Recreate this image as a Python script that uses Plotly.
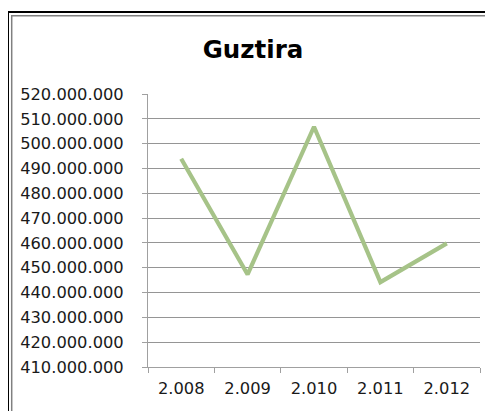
import plotly.graph_objects as go

title_text = "Guztira"
years = ["2.008", "2.009", "2.010", "2.011", "2.012"]
values = [493900000, 447300000, 506800000, 444200000, 459800000]
y_ticks = [410000000 + 10000000 * i for i in range(12)]

OFF = 8  # page body margin
W, H = 493 - OFF, 411 - OFF
L, R, T, B = 148 - OFF, 480 - OFF, 94 - OFF, 367 - OFF  # plot area in figure pixels


def px(x):
    return (x - OFF - L) / (R - L)


def py(y):
    return (B - (y - OFF)) / (B - T)


fig = go.Figure()
fig.add_trace(go.Scatter(
    x=years, y=values, mode="lines",
    line=dict(color="#A6C388", width=4.2),
    hoverinfo="skip", showlegend=False,
))

font = dict(family="DejaVu Sans", size=16.3, color="#1a1a1a")

fig.update_layout(
    width=W, height=H,
    margin=dict(l=L, r=W - R, t=T, b=H - B, autoexpand=False),
    paper_bgcolor="white", plot_bgcolor="white",
    separators=",.",
    title=dict(text="<b>" + title_text + "</b>", x=(253 - OFF) / W, xref="container",
               xanchor="center", y=1 - (49 - OFF) / H, yref="container", yanchor="middle",
               font=dict(family="DejaVu Sans", size=24.5, color="black")),
    xaxis=dict(
        type="category", range=[-0.5, 4.5], tickson="boundaries",
        showgrid=False, showline=True, linecolor="#A0A0A0", linewidth=1,
        ticks="outside", ticklen=5, tickcolor="#A0A0A0",
        tickfont=font, ticklabelstandoff=6, zeroline=False, automargin=False,
    ),
    yaxis=dict(
        range=[410000000, 520000000], tickvals=y_ticks, tickformat=",d",
        showgrid=True, gridcolor="#959595", gridwidth=1,
        showline=True, linecolor="#A0A0A0", linewidth=1,
        ticks="outside", ticklen=5, tickcolor="#A0A0A0",
        tickfont=font, ticklabelstandoff=15, zeroline=False, automargin=False,
    ),
    shapes=[
        dict(type="rect", xref="paper", yref="paper",
             x0=px(8), x1=px(505), y0=py(425), y1=py(12),
             line=dict(color="black", width=2), fillcolor="rgba(0,0,0,0)", layer="above"),
        dict(type="rect", xref="paper", yref="paper",
             x0=px(11.7), x1=px(505), y0=py(425), y1=py(15.7),
             line=dict(color="#808080", width=1.5), fillcolor="rgba(0,0,0,0)", layer="above"),
    ],
)

fig.write_html("out.html")
